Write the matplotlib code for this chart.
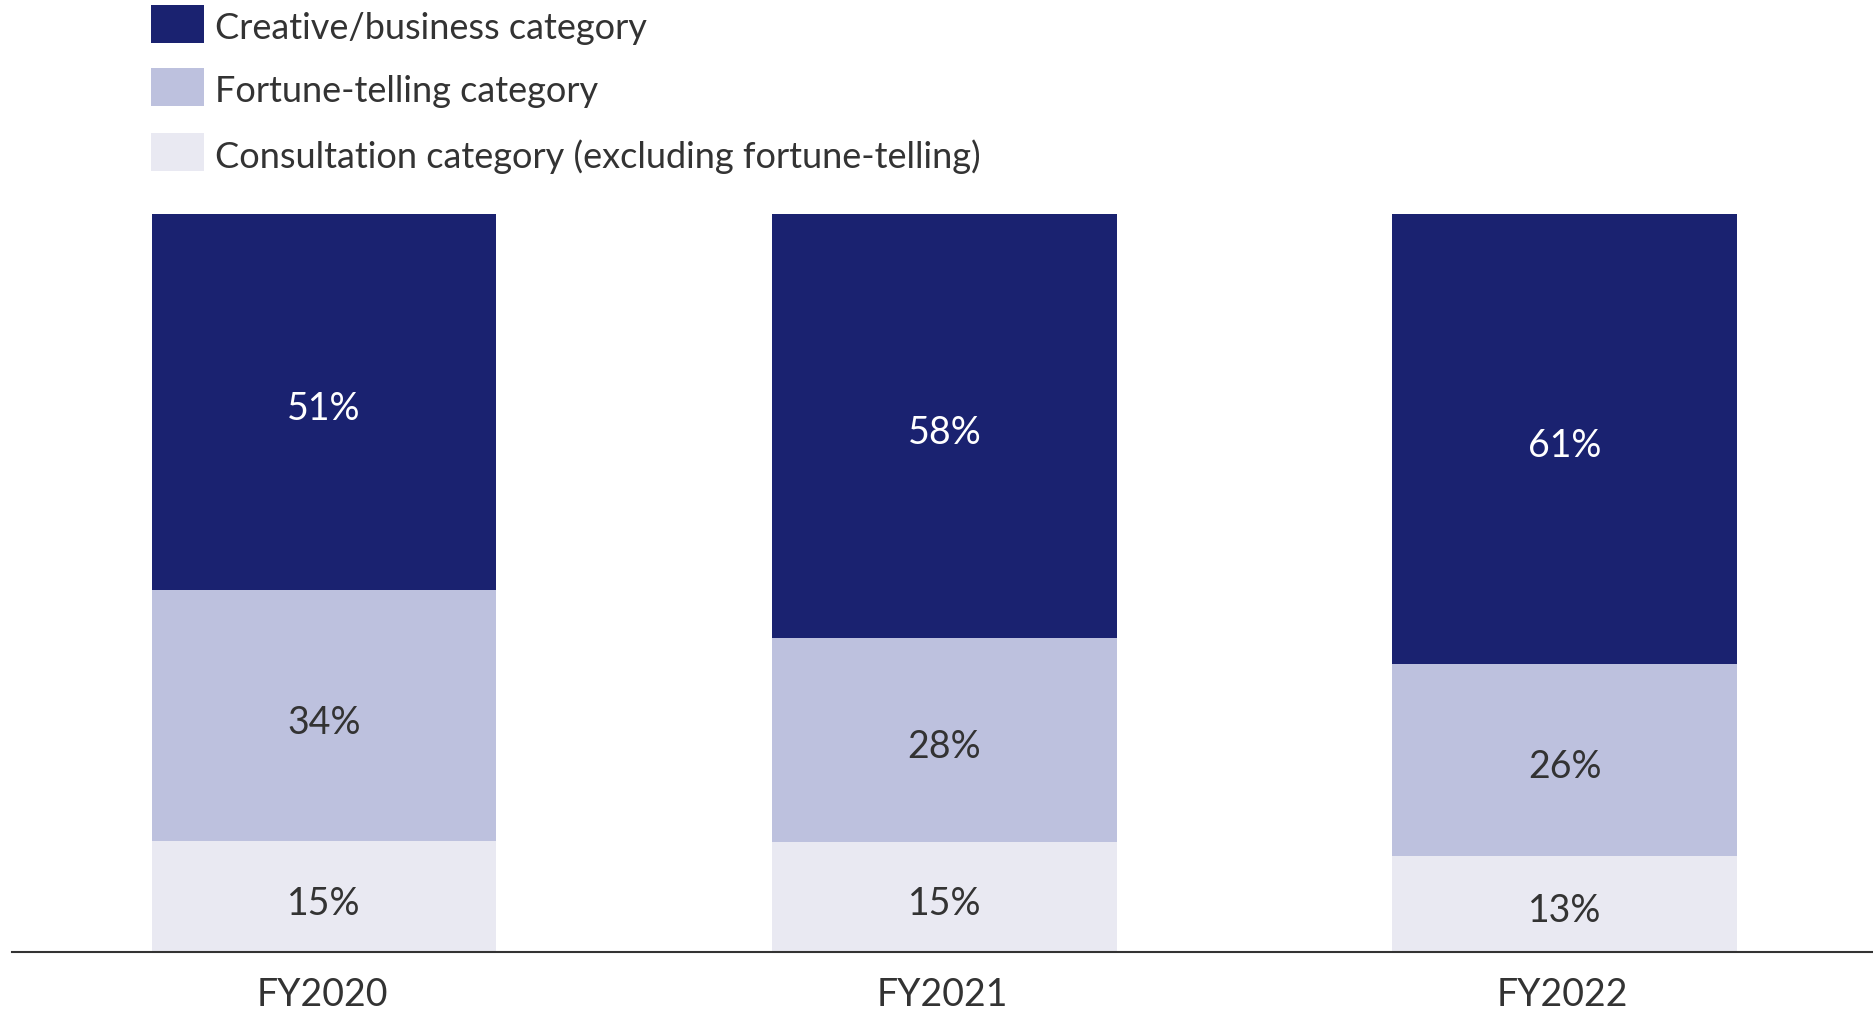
import matplotlib
matplotlib.use("Agg")
import matplotlib.pyplot as plt
from matplotlib.patches import Rectangle
import numpy as np

plt.rcParams['font.family'] = ['Lato', 'DejaVu Sans']

years = ["FY2020", "FY2021", "FY2022"]
series_names = ["Creative/business category", "Fortune-telling category",
                "Consultation category (excluding fortune-telling)"]
creative = [51, 58, 61]
fortune = [34, 28, 26]
consult = [15, 15, 13]

colors = ["#1a2270", "#bdc1de", "#e9e9f2"]
label_colors = ["white", "#333333", "#333333"]

W, H = 1873, 1012
fig = plt.figure(figsize=(W / 100, H / 100), dpi=100)
ax = fig.add_axes([12 / W, (H - 953) / H, (W - 12) / W, (953 - 215) / H])

x = np.arange(len(years))
data = np.array([consult, fortune, creative], dtype=float)
totals = data.sum(axis=0)
norm = data / totals * 100
seg_colors = [colors[2], colors[1], colors[0]]
seg_lab_colors = [label_colors[2], label_colors[1], label_colors[0]]
raw = [consult, fortune, creative]

bottom = np.zeros(len(years))
for i in range(3):
    ax.bar(x + 0.003, norm[i], bottom=bottom, width=0.556, color=seg_colors[i], linewidth=0)
    for j in range(len(years)):
        ax.annotate(f"{raw[i][j]}%", (x[j] + 0.003, bottom[j] + norm[i][j] / 2),
                    xytext=(0, -6), textcoords='offset pixels',
                    ha='center', va='center', color=seg_lab_colors[i], fontsize=27)
    bottom += norm[i]

ax.set_xlim(-0.5, 2.5)
ax.set_ylim(0, 100)
for s in ['top', 'right', 'left']:
    ax.spines[s].set_visible(False)
ax.spines['bottom'].set_color('#333333')
ax.spines['bottom'].set_linewidth(1.5)
ax.set_yticks([])
ax.set_xticks(x)
ax.set_xticklabels(years, fontsize=27, color='#333333')
ax.tick_params(axis='x', length=0, pad=17)

# legend
sq_tops = [6, 69, 134]
for k, name in enumerate(series_names):
    y0 = sq_tops[k]
    fig.patches.append(Rectangle((150.5 / W, (H - y0 - 38) / H), 53 / W, 38 / H,
                                 transform=fig.transFigure, color=colors[k], linewidth=0))
    fig.text(215 / W, (H - y0 - 23) / H, name, ha='left', va='center', fontsize=26,
             color='#333333')

fig.savefig("out.png", dpi=100, facecolor='white')
